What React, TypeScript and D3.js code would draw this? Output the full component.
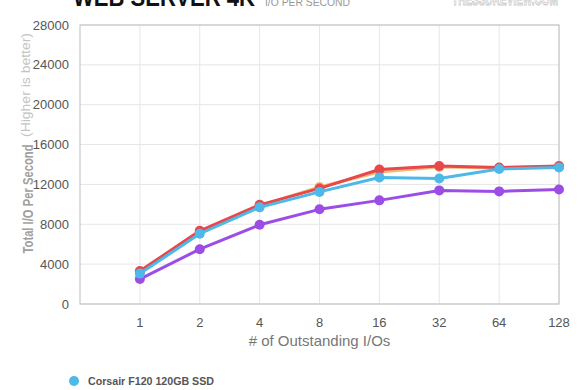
import React, { useEffect, useRef } from "react";
import * as d3 from "d3";

const categories = ["1", "2", "4", "8", "16", "32", "64", "128"];
const yTicks = [0, 4000, 8000, 12000, 16000, 20000, 24000, 28000];

const purpleValues = [2500, 5500, 7950, 9500, 10400, 11400, 11300, 11500];
const orangeValues = [3250, 7250, 9850, 11750, 13250, 13750, 13650, 13800];
const redValues = [3300, 7350, 9950, 11600, 13500, 13850, 13700, 13850];
const blueValues = [3050, 7050, 9700, 11250, 12700, 12600, 13550, 13700];

const seriesNames = ["Purple", "Orange", "Red", "Corsair F120 120GB SSD"];
const seriesColors = ["#9b4de6", "#f0bb7c", "#e8474b", "#4cb9e9"];
const seriesValues = [purpleValues, orangeValues, redValues, blueValues];

const W = 580;
const H = 390;
const margin = { top: 25, right: 21, bottom: 86, left: 80 };

const App = () => {
  const svgRef = useRef();

  useEffect(() => {
    const svg = d3.select(svgRef.current);
    svg.selectAll("*").remove();

    const iw = W - margin.left - margin.right;
    const ih = H - margin.top - margin.bottom;

    // slot 0 is the empty space before "1"
    const x = d3
      .scalePoint()
      .domain(["", ...categories])
      .range([0, iw]);
    const y = d3.scaleLinear().domain([0, 28000]).range([ih, 0]);

    const g = svg
      .append("g")
      .attr("transform", `translate(${margin.left},${margin.top})`);

    // grid
    g.selectAll(".hgrid")
      .data(yTicks)
      .enter()
      .append("line")
      .attr("x1", 0)
      .attr("x2", iw)
      .attr("y1", (d) => y(d))
      .attr("y2", (d) => y(d))
      .style("stroke", "#e6e6e6");
    g.selectAll(".vgrid")
      .data(categories)
      .enter()
      .append("line")
      .attr("x1", (d) => x(d))
      .attr("x2", (d) => x(d))
      .attr("y1", 0)
      .attr("y2", ih)
      .style("stroke", "#e6e6e6");

    g.append("rect")
      .attr("width", iw)
      .attr("height", ih)
      .style("fill", "none")
      .style("stroke", "#bdbdbd");

    // y tick labels
    g.selectAll(".ylab")
      .data(yTicks)
      .enter()
      .append("text")
      .attr("x", -11)
      .attr("y", (d) => y(d))
      .attr("dy", "0.35em")
      .attr("text-anchor", "end")
      .style("font", "13px 'Liberation Sans', Arial, sans-serif")
      .style("fill", "#555")
      .text((d) => d);

    // x tick labels
    g.selectAll(".xlab")
      .data(categories)
      .enter()
      .append("text")
      .attr("x", (d) => x(d))
      .attr("y", ih + 23)
      .attr("text-anchor", "middle")
      .style("font", "13px 'Liberation Sans', Arial, sans-serif")
      .style("fill", "#555")
      .text((d) => d);

    const line = d3
      .line()
      .x((d, i) => x(categories[i]))
      .y((d) => y(d));

    seriesValues.forEach((vals, s) => {
      g.append("path")
        .datum(vals)
        .attr("d", line)
        .style("fill", "none")
        .style("stroke", seriesColors[s])
        .style("stroke-width", 3)
        .style("stroke-linejoin", "round");
      g.selectAll(".pt" + s)
        .data(vals)
        .enter()
        .append("circle")
        .attr("cx", (d, i) => x(categories[i]))
        .attr("cy", (d) => y(d))
        .attr("r", 5)
        .style("fill", seriesColors[s]);
    });

    // axis titles
    svg
      .append("text")
      .attr("x", margin.left + iw / 2)
      .attr("y", 346)
      .attr("text-anchor", "middle")
      .style("font", "15px 'Liberation Sans', Arial, sans-serif")
      .style("fill", "#777")
      .text("# of Outstanding I/Os");

    svg
      .append("text")
      .attr("transform", "translate(33,199) rotate(-90)")
      .attr("text-anchor", "middle")
      .attr("textLength", 109)
      .attr("lengthAdjust", "spacingAndGlyphs")
      .style("font", "bold 14px 'Liberation Sans', Arial, sans-serif")
      .style("fill", "#a0a0a0")
      .text("Total I/O Per Second");
    svg
      .append("text")
      .attr("transform", "translate(30,85) rotate(-90)")
      .attr("text-anchor", "middle")
      .attr("textLength", 104)
      .attr("lengthAdjust", "spacingAndGlyphs")
      .style("font", "12px 'Liberation Sans', Arial, sans-serif")
      .style("fill", "#c4c4c4")
      .text("(Higher is better)");

    // title
    svg
      .append("text")
      .attr("x", 73)
      .attr("y", 6)
      .attr("textLength", 182)
      .attr("lengthAdjust", "spacingAndGlyphs")
      .style("font", "bold 26px 'Liberation Sans', Arial, sans-serif")
      .style("fill", "#111")
      .text("WEB SERVER 4K");
    svg
      .append("text")
      .attr("x", 265)
      .attr("y", 6)
      .attr("textLength", 85)
      .attr("lengthAdjust", "spacingAndGlyphs")
      .style("font", "11px 'Liberation Sans', Arial, sans-serif")
      .style("fill", "#999")
      .text("I/O PER SECOND");
    svg
      .append("text")
      .attr("x", 452)
      .attr("y", 5)
      .attr("textLength", 106)
      .attr("lengthAdjust", "spacingAndGlyphs")
      .style("font", "bold 17px 'Liberation Sans', Arial, sans-serif")
      .style("fill", "#fff")
      .style("stroke", "#c8c8c8")
      .style("stroke-width", 1)
      .text("THESSDREVIEW.COM");

    // legend
    const last = seriesNames.length - 1;
    svg
      .append("circle")
      .attr("cx", 74)
      .attr("cy", 381)
      .attr("r", 5)
      .style("fill", seriesColors[last]);
    svg
      .append("text")
      .attr("x", 88)
      .attr("y", 385)
      .attr("textLength", 126)
      .attr("lengthAdjust", "spacingAndGlyphs")
      .style("font", "bold 11px 'Liberation Sans', Arial, sans-serif")
      .style("fill", "#555")
      .text(seriesNames[last]);
  }, []);

  return (
    <svg
      ref={svgRef}
      width={W}
      height={H}
      style={{ position: "absolute", left: 0, top: 0, background: "#fff" }}
    />
  );
};

export default App;
